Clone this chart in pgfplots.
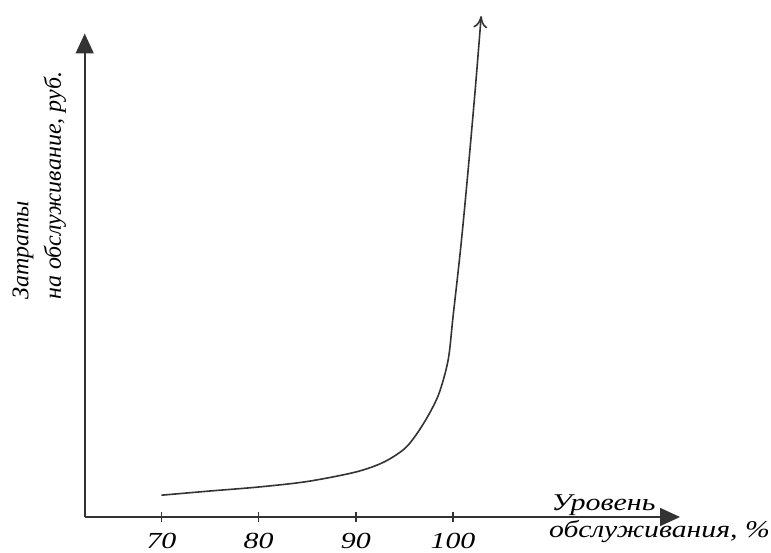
\documentclass[border=0pt]{standalone}
\usepackage{fontspec}
\setmainfont{Liberation Serif}
\usepackage{graphicx}
\usepackage{pgfplots}
\pgfplotsset{compat=1.18}
\usetikzlibrary{arrows.meta}
\begin{document}
\begin{tikzpicture}
\begin{axis}[
  scale only axis,
  width=297.65pt, height=241.75pt,
  xmin=62.1, xmax=123.36,
  ymin=0, ymax=483.5,
  axis lines=left,
  axis line style={line width=0.8pt, draw=black!80, -{Triangle[length=10pt,width=9pt]}},
  xtick={70,80,90,100},
  ytick=\empty,
  tick align=center,
  major tick length=5pt,
  tick style={line width=0.8pt, black!80},
  /pgf/number format/assume math mode=true,
  xticklabel={\scalebox{1.3}[1]{\pgfmathprintnumber{\tick}}},
  xticklabel style={font=\fontsize{11.5}{13}\selectfont\itshape, anchor=base, yshift=-13pt},
  clip=false,
]
\addplot[line width=0.8pt, black!80, smooth, tension=0.5, -{>[length=6pt,width=7pt]}] coordinates {
 (70,21.8) (75,26) (80,30) (85,35.5) (90,45) (92.9,55) (95.2,70) (97,94)
 (98.5,122) (99.5,157) (100,200) (100.8,270) (101.5,341) (102.3,429) (102.9,501)
};
\coordinate (O) at (rel axis cs:0,0);
\end{axis}
\begin{scope}[shift={(O)}, font=\fontsize{12}{14}\selectfont\itshape]
\node[rotate=90, anchor=west, inner sep=0pt] at (-30.85pt,108.5pt) {Затраты};
\node[rotate=90, anchor=west, inner sep=0pt] at (-14.85pt,108.5pt) {на обслуживание, руб.};
\node[anchor=base, inner sep=0pt] at (259.4pt,3.5pt) {\scalebox{1.25}[1]{Уровень}};
\node[anchor=base, inner sep=0pt] at (287.4pt,-10pt) {\scalebox{1.24}[1]{обслуживания, \%}};
\end{scope}
\pgfresetboundingbox
\path[use as bounding box, shift={(O)}] (-42.35pt,-17.5pt) rectangle (343.15pt,258.5pt);
\end{tikzpicture}
\end{document}
